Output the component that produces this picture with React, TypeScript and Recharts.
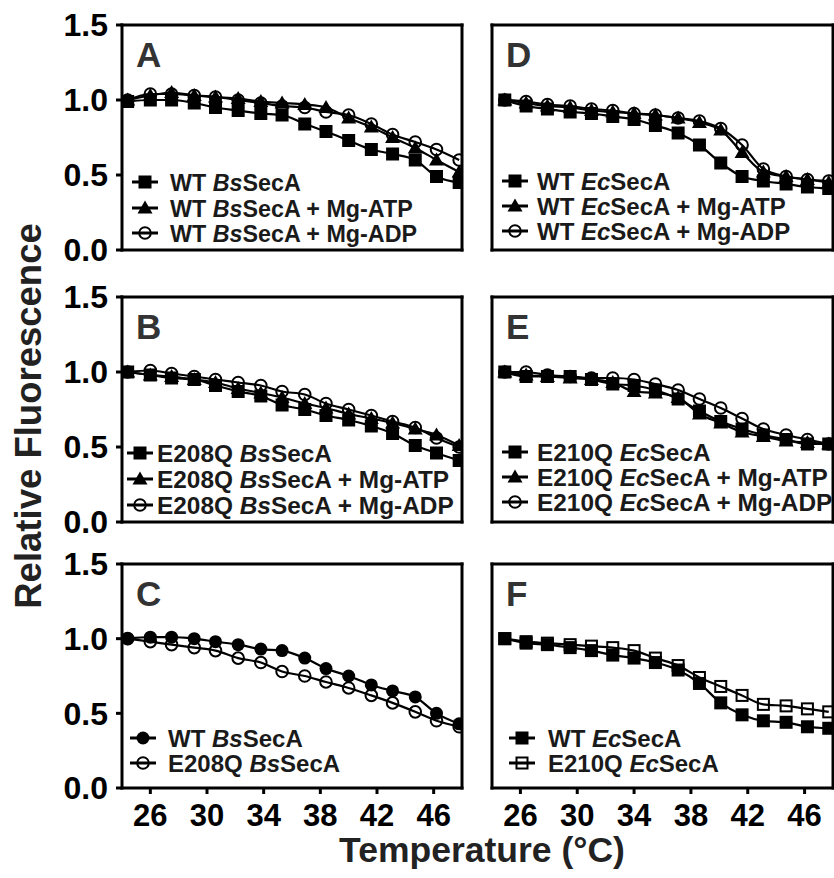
import React from "react";
import {LineChart, Line, XAxis, YAxis} from "recharts";

// temperatures (°C) of the scans
const bsTemps = [24.4, 26.0, 27.5, 29.1, 30.6, 32.2, 33.8, 35.3, 36.9, 38.4, 40.0, 41.6, 43.1, 44.7, 46.2, 47.8];
const ecTemps = [24.9, 26.4, 27.9, 29.5, 31.0, 32.5, 34.0, 35.5, 37.1, 38.6, 40.1, 41.6, 43.1, 44.7, 46.2, 47.7];

const tempTicks = [26, 30, 34, 38, 42, 46];
const fluorTicks = [0, 0.5, 1.0, 1.5];

// A
const wtBs = [0.99, 1.00, 1.00, 0.98, 0.95, 0.93, 0.91, 0.90, 0.84, 0.79, 0.73, 0.67, 0.64, 0.60, 0.49, 0.45];
const wtBsAtp = [1.00, 1.03, 1.05, 1.03, 1.02, 1.01, 0.99, 0.98, 0.97, 0.95, 0.88, 0.82, 0.75, 0.68, 0.60, 0.52];
const wtBsAdp = [1.00, 1.04, 1.04, 1.03, 1.02, 1.00, 0.98, 0.96, 0.95, 0.92, 0.90, 0.84, 0.77, 0.72, 0.67, 0.60];
// B
const e208q = [1.00, 0.98, 0.96, 0.95, 0.91, 0.87, 0.84, 0.78, 0.75, 0.71, 0.68, 0.64, 0.59, 0.51, 0.46, 0.41];
const e208qAtp = [1.00, 0.98, 0.97, 0.95, 0.93, 0.89, 0.86, 0.83, 0.79, 0.76, 0.72, 0.69, 0.66, 0.62, 0.58, 0.51];
const e208qAdp = [1.00, 1.01, 0.99, 0.97, 0.95, 0.93, 0.91, 0.87, 0.85, 0.79, 0.75, 0.71, 0.67, 0.63, 0.56, 0.50];
// C
const wtBsC = [1.00, 1.01, 1.01, 1.00, 0.98, 0.96, 0.93, 0.92, 0.87, 0.80, 0.75, 0.69, 0.65, 0.61, 0.50, 0.43];
const e208qC = [1.00, 0.98, 0.96, 0.94, 0.92, 0.87, 0.84, 0.78, 0.75, 0.71, 0.67, 0.62, 0.57, 0.51, 0.45, 0.41];
// D
const wtEc = [1.00, 0.96, 0.94, 0.92, 0.91, 0.89, 0.87, 0.83, 0.78, 0.70, 0.58, 0.49, 0.46, 0.44, 0.42, 0.41];
const wtEcAtp = [1.00, 0.98, 0.96, 0.95, 0.93, 0.92, 0.91, 0.90, 0.88, 0.85, 0.80, 0.65, 0.52, 0.49, 0.47, 0.45];
const wtEcAdp = [1.00, 0.99, 0.97, 0.96, 0.94, 0.93, 0.91, 0.90, 0.88, 0.86, 0.81, 0.70, 0.54, 0.49, 0.47, 0.46];
// E
const e210q = [1.00, 0.97, 0.97, 0.97, 0.95, 0.92, 0.91, 0.88, 0.82, 0.74, 0.67, 0.62, 0.58, 0.55, 0.52, 0.52];
const e210qAtp = [1.00, 0.98, 0.97, 0.96, 0.95, 0.93, 0.87, 0.86, 0.83, 0.72, 0.66, 0.60, 0.57, 0.54, 0.53, 0.52];
const e210qAdp = [1.00, 1.00, 0.98, 0.97, 0.96, 0.96, 0.95, 0.92, 0.88, 0.82, 0.76, 0.69, 0.62, 0.58, 0.55, 0.52];
// F
const wtEcF = [1.00, 0.97, 0.96, 0.94, 0.92, 0.89, 0.87, 0.84, 0.79, 0.70, 0.57, 0.49, 0.45, 0.44, 0.41, 0.40];
const e210qF = [1.00, 0.98, 0.97, 0.96, 0.95, 0.94, 0.92, 0.87, 0.82, 0.74, 0.68, 0.62, 0.56, 0.55, 0.53, 0.51];

// legend labels: [plain, italic, plain]
const labelsA = [["WT ", "Bs", "SecA"], ["WT ", "Bs", "SecA + Mg-ATP"], ["WT ", "Bs", "SecA + Mg-ADP"]];
const labelsB = [["E208Q ", "Bs", "SecA"], ["E208Q ", "Bs", "SecA + Mg-ATP"], ["E208Q ", "Bs", "SecA + Mg-ADP"]];
const labelsC = [["WT ", "Bs", "SecA"], ["E208Q ", "Bs", "SecA"]];
const labelsD = [["WT ", "Ec", "SecA"], ["WT ", "Ec", "SecA + Mg-ATP"], ["WT ", "Ec", "SecA + Mg-ADP"]];
const labelsE = [["E210Q ", "Ec", "SecA"], ["E210Q ", "Ec", "SecA + Mg-ATP"], ["E210Q ", "Ec", "SecA + Mg-ADP"]];
const labelsF = [["WT ", "Ec", "SecA"], ["E210Q ", "Ec", "SecA"]];

const FONT = "'Liberation Sans', Arial, Helvetica, sans-serif";

type MarkerKind = "square" | "openSquare" | "triangle" | "circle" | "dot";

const Marker = ({kind, cx, cy}: {kind: MarkerKind; cx: number; cy: number}) => {
    const h = 6.5;
    switch (kind) {
        case "square":
            return <rect x={cx - h} y={cy - h} width={2 * h} height={2 * h} fill="#000"/>;
        case "openSquare":
            return <rect x={cx - h + 1} y={cy - h + 1} width={2 * h - 2} height={2 * h - 2} fill="none" stroke="#000" strokeWidth={2}/>;
        case "triangle":
            return <polygon points={`${cx},${cy - 7.5} ${cx + 7.5},${cy + 5.5} ${cx - 7.5},${cy + 5.5}`} fill="#000"/>;
        case "circle":
            return <circle cx={cx} cy={cy} r={5.8} fill="none" stroke="#000" strokeWidth={2}/>;
        default:
            return <circle cx={cx} cy={cy} r={6.5} fill="#000"/>;
    }
};

type PanelDef = {
    letter: string;
    x: number; y: number; w: number; h: number;
    temps: number[];
    values: number[][];
    markers: MarkerKind[];
    labels: string[][];
    yLabels: boolean;
    xLabels: boolean;
    symX: number;
    textX: number;
    rowY: number[];
    legendSize: number;
};

const panels: PanelDef[] = [
    {letter: "A", x: 122, y: 25, w: 340, h: 225, temps: bsTemps, values: [wtBs, wtBsAtp, wtBsAdp],
        markers: ["square", "triangle", "circle"], labels: labelsA, yLabels: true, xLabels: false,
        symX: 145, textX: 170, rowY: [182, 208, 233], legendSize: 23.3},
    {letter: "B", x: 122, y: 297, w: 340, h: 225, temps: bsTemps, values: [e208q, e208qAtp, e208qAdp],
        markers: ["square", "triangle", "circle"], labels: labelsB, yLabels: true, xLabels: false,
        symX: 140, textX: 157, rowY: [453, 479, 505], legendSize: 24.4},
    {letter: "C", x: 122, y: 564, w: 340, h: 224, temps: bsTemps, values: [wtBsC, e208qC],
        markers: ["dot", "circle"], labels: labelsC, yLabels: true, xLabels: true,
        symX: 143, textX: 168, rowY: [738, 763], legendSize: 24},
    {letter: "D", x: 492, y: 25, w: 341, h: 225, temps: ecTemps, values: [wtEc, wtEcAtp, wtEcAdp],
        markers: ["square", "triangle", "circle"], labels: labelsD, yLabels: false, xLabels: false,
        symX: 515, textX: 537, rowY: [181, 206, 231], legendSize: 24},
    {letter: "E", x: 492, y: 297, w: 341, h: 225, temps: ecTemps, values: [e210q, e210qAtp, e210qAdp],
        markers: ["square", "triangle", "circle"], labels: labelsE, yLabels: false, xLabels: false,
        symX: 515, textX: 537, rowY: [452, 477, 502], legendSize: 24.4},
    {letter: "F", x: 492, y: 564, w: 341, h: 224, temps: ecTemps, values: [wtEcF, e210qF],
        markers: ["square", "openSquare"], labels: labelsF, yLabels: false, xLabels: true,
        symX: 522, textX: 548, rowY: [738, 763], legendSize: 24},
];

const axisLine = {stroke: "#000", strokeWidth: 3, strokeLinecap: "square" as const};
const tickLine = {stroke: "#000", strokeWidth: 3};
const yTickFont = {fill: "#000", fontSize: 32, fontWeight: "bold", fontFamily: FONT};
const xTickFont = {fill: "#000", fontSize: 31, fontWeight: "bold", fontFamily: FONT};

const Panel = ({p}: {p: PanelDef}) => {
    const L = p.yLabels ? 110 : 12;
    const R = p.x + p.w >= 830 ? 1 : 12;
    const T = 20;
    const B = p.xLabels ? 52 : 20;
    const rows = p.temps.map((t, i) => {
        const row: Record<string, number> = {t};
        p.values.forEach((s, k) => (row[`s${k}`] = s[i]));
        return row;
    });
    return (
        <div style={{position: "absolute", left: p.x - L, top: p.y - T}}>
            <LineChart width={p.w + L + R} height={p.h + T + B} data={rows}
                       margin={{top: 0, right: 0, bottom: 0, left: 0}}>
                <XAxis xAxisId="b" dataKey="t" type="number" domain={[24, 48]} ticks={tempTicks}
                       orientation="bottom" height={B} allowDataOverflow interval={0}
                       axisLine={axisLine} tickLine={tickLine} tickSize={6} tickMargin={10}
                       tick={p.xLabels ? xTickFont : false}/>
                <XAxis xAxisId="t" dataKey="t" type="number" domain={[24, 48]} ticks={tempTicks}
                       orientation="top" height={T} allowDataOverflow interval={0}
                       axisLine={axisLine} tickLine={tickLine} tickSize={6} tick={false}/>
                <YAxis yAxisId="l" type="number" domain={[0, 1.5]} ticks={fluorTicks} width={L}
                       allowDataOverflow interval={0} axisLine={axisLine} tickLine={tickLine} tickSize={6}
                       tickMargin={8} tickFormatter={(v: number) => v.toFixed(1)}
                       tick={p.yLabels ? yTickFont : false}/>
                <YAxis yAxisId="r" orientation="right" type="number" domain={[0, 1.5]} ticks={fluorTicks}
                       width={R} allowDataOverflow interval={0} axisLine={axisLine} tickLine={tickLine}
                       tickSize={6} tick={false}/>
                {p.values.map((_, k) => (
                    <Line key={k} xAxisId="b" yAxisId="l" dataKey={`s${k}`} type="monotone"
                          stroke="#000" strokeWidth={2.2} isAnimationActive={false}
                          dot={(d: any) => <Marker key={`${k}-${d.index}`} kind={p.markers[k]} cx={d.cx} cy={d.cy}/>}/>
                ))}
            </LineChart>
        </div>
    );
};

const Overlay = () => (
    <svg width={834} height={878} style={{position: "absolute", left: 0, top: 0, pointerEvents: "none"}}
         fontFamily={FONT} fontWeight="bold">
        {panels.map((p) => (
            <g key={p.letter}>
                <text x={p.x + 14} y={p.y + 42} fontSize={35} fill="#333">{p.letter}</text>
                {p.labels.map((lab, i) => (
                    <g key={i}>
                        <line x1={p.symX - 13} x2={p.symX + 13} y1={p.rowY[i]} y2={p.rowY[i]} stroke="#000" strokeWidth={3}/>
                        <Marker kind={p.markers[i]} cx={p.symX} cy={p.rowY[i]}/>
                        <text x={p.textX} y={p.rowY[i] + 8.5} fontSize={p.legendSize} fill="#1a1a1a">
                            <tspan>{lab[0]}</tspan>
                            <tspan fontStyle="italic">{lab[1]}</tspan>
                            <tspan>{lab[2]}</tspan>
                        </text>
                    </g>
                ))}
            </g>
        ))}
        <text x={482} y={862} fontSize={35.5} textAnchor="middle" fill="#222">Temperature (°C)</text>
        <text transform="translate(41,416) rotate(-90)" fontSize={36.5} textAnchor="middle" fill="#222">Relative Fluorescence</text>
    </svg>
);

const App = () => (
    <div style={{position: "absolute", left: 0, top: 0, width: 834, height: 878, background: "#fff"}}>
        {panels.map((p) => <Panel key={p.letter} p={p}/>)}
        <Overlay/>
    </div>
);

export default App;
